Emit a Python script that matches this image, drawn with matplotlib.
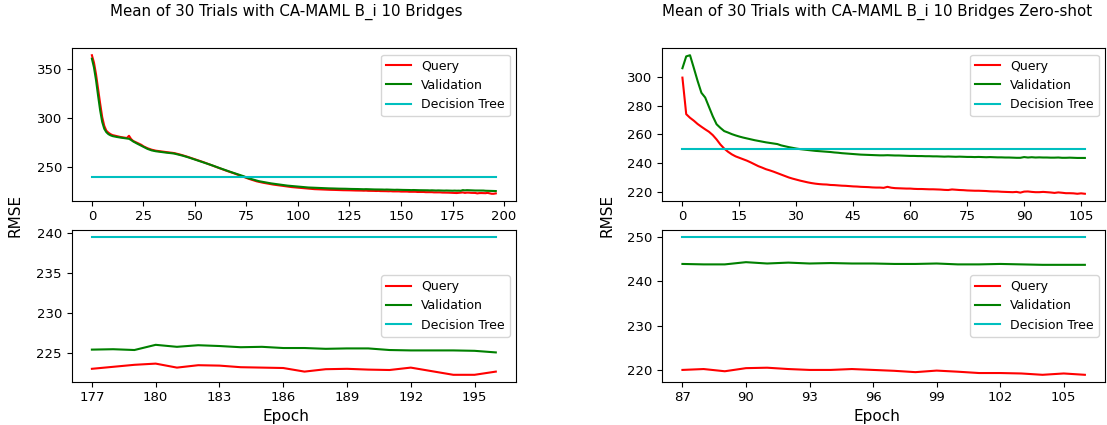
import matplotlib
matplotlib.use('Agg')
import matplotlib.pyplot as plt
from matplotlib.ticker import MultipleLocator
import numpy as np

# ---- CA-MAML B_i, 10 bridges (epochs 0..196) ----
query_a = [364.5, 357.0, 345.0, 330.0, 315.0, 301.0, 292.0, 287.0, 285.0, 283.5,
           282.5, 282.0, 281.5, 281.0, 280.5, 280.2, 280.0, 279.5, 281.8, 278.5,
           276.5, 275.5, 274.5, 273.5, 272.5, 271.0, 270.0, 269.0, 268.2, 267.5,
           267.0, 266.5, 266.2, 266.0, 265.6, 265.3, 265.0, 264.8, 264.6, 264.3,
           264.0, 263.5, 263.0, 262.4, 261.8, 261.2, 260.5, 259.8, 259.0, 258.3,
           257.6, 256.9, 256.2, 255.5, 254.8, 254.0, 253.3, 252.5, 251.7, 250.9,
           250.1, 249.3, 248.5, 247.7, 246.9, 246.1, 245.4, 244.6, 243.9, 243.2,
           242.4, 241.6, 240.8, 240.0, 239.2, 238.4, 237.7, 237.0, 236.3, 235.6,
           235.0, 234.5, 234.0, 233.6, 233.2, 232.8, 232.4, 232.0, 231.7, 231.4,
           231.1, 230.8, 230.5, 230.2, 229.9, 229.6, 229.3, 229.1, 228.9, 228.6,
           228.4, 228.2, 228.0, 227.8, 227.6, 227.4, 227.3, 227.1, 227.0, 226.9,
           226.8, 226.7, 226.6, 226.6, 226.5, 226.4, 226.3, 226.3, 226.2, 226.1,
           226.1, 226.0, 225.9, 225.9, 225.8, 225.8, 225.7, 225.7, 225.6, 225.6,
           225.5, 225.5, 225.4, 225.5, 225.3, 225.3, 225.2, 225.2, 225.1, 225.2,
           225.0, 225.0, 224.9, 224.9, 224.8, 224.9, 224.7, 224.7, 224.6, 224.7,
           224.5, 224.5, 224.4, 224.5, 224.3, 224.3, 224.2, 224.3, 224.1, 224.1,
           224.0, 224.1, 223.9, 223.9, 223.8, 223.9, 223.7, 223.7, 223.6, 223.7,
           223.5, 223.5, 223.4, 223.4, 223.3, 223.2, 223.1,
           223.0, 223.25, 223.5, 223.65, 223.15, 223.45, 223.4, 223.2, 223.15, 223.1,
           222.65, 222.95, 223.0, 222.9, 222.85, 223.15, 222.7, 222.25, 222.25, 222.65]
val_a = [361.0, 352.0, 339.0, 323.0, 308.0, 296.0, 289.0, 285.5, 283.5, 282.3,
         281.5, 281.0, 280.6, 280.2, 279.9, 279.6, 279.3, 278.9, 278.7, 277.5,
         276.0, 274.8, 273.7, 272.6, 271.5, 270.3, 269.2, 268.3, 267.5, 266.8,
         266.3, 265.9, 265.6, 265.3, 265.0, 264.8, 264.5, 264.3, 264.1, 263.8,
         263.5, 263.0, 262.5, 262.0, 261.4, 260.8, 260.2, 259.5, 258.8, 258.1,
         257.4, 256.7, 256.0, 255.3, 254.6, 253.9, 253.2, 252.5, 251.7, 250.9,
         250.2, 249.4, 248.6, 247.9, 247.1, 246.4, 245.6, 244.9, 244.2, 243.5,
         242.8, 242.1, 241.4, 240.7, 240.0, 238.9, 238.2, 237.6, 237.0, 236.3,
         235.7, 235.2, 234.8, 234.4, 234.0, 233.6, 233.3, 232.9, 232.6, 232.3,
         232.0, 231.7, 231.4, 231.1, 230.9, 230.6, 230.4, 230.2, 230.0, 229.7,
         229.5, 229.3, 229.2, 229.0, 228.9, 228.7, 228.6, 228.5, 228.4, 228.3,
         228.2, 228.1, 228.0, 228.0, 227.9, 227.8, 227.8, 227.7, 227.6, 227.6,
         227.5, 227.5, 227.4, 227.4, 227.3, 227.3, 227.2, 227.2, 227.1, 227.1,
         227.0, 227.0, 226.9, 227.0, 226.9, 226.8, 226.8, 226.7, 226.7, 226.7,
         226.6, 226.6, 226.5, 226.6, 226.5, 226.4, 226.4, 226.3, 226.4, 226.3,
         226.2, 226.2, 226.2, 226.1, 226.1, 226.0, 226.1, 226.0, 225.9, 225.9,
         225.9, 225.8, 225.8, 225.8, 225.7, 225.8, 225.7, 225.6, 225.7, 225.6,
         225.6, 225.5, 225.6, 225.5, 225.5, 225.4, 225.5,
         225.4, 225.45, 225.35, 226.0, 225.75, 225.95, 225.85, 225.7, 225.75, 225.6,
         225.6, 225.5, 225.55, 225.55, 225.35, 225.3, 225.3, 225.3, 225.25, 225.05]
tree_a = 239.5

# ---- CA-MAML B_i, 10 bridges, zero-shot (epochs 0..106) ----
query_b = [299.3, 274.0, 271.5, 269.5, 267.2, 265.3, 263.5, 261.8, 259.5, 256.5,
           253.0, 250.2, 248.0, 246.2, 244.8, 243.8, 242.8, 241.8, 240.6, 239.3,
           238.0, 237.0, 235.9, 235.1, 234.2, 233.2, 232.2, 231.2, 230.2, 229.4,
           228.7, 228.0, 227.4, 226.8, 226.3, 225.9, 225.6, 225.4, 225.3, 225.0,
           224.9, 224.7, 224.5, 224.4, 224.2, 224.0, 223.9, 223.7, 223.6, 223.5,
           223.3, 223.2, 223.2, 223.0, 223.7, 223.1, 222.8, 222.7, 222.6, 222.5,
           222.5, 222.3, 222.2, 222.2, 222.1, 222.0, 222.0, 221.9, 221.8, 221.6,
           221.5, 221.9, 221.7, 221.5, 221.4, 221.2, 221.1, 221.0, 221.0, 220.9,
           220.8, 220.6, 220.5, 220.5, 220.3, 220.2, 220.1,
           220.0, 220.2, 219.7, 220.4, 220.5, 220.2, 220.0, 220.0, 220.2, 220.0,
           219.8, 219.5, 219.85, 219.6, 219.3, 219.3, 219.2, 218.9, 219.2, 218.9]
val_b = [305.8, 314.0, 314.8, 306.0, 297.0, 288.8, 285.5, 279.0, 272.5, 267.0,
         264.5, 262.3, 261.3, 260.2, 259.3, 258.5, 257.8, 257.2, 256.6, 256.0,
         255.5, 255.0, 254.5, 254.1, 253.7, 253.3, 252.4, 251.8, 251.2, 250.7,
         250.2, 249.8, 249.5, 249.2, 248.9, 248.6, 248.4, 248.2, 248.0, 247.8,
         247.5, 247.3, 247.0, 246.8, 246.6, 246.4, 246.2, 246.0, 245.9, 245.8,
         245.7, 245.6, 245.5, 245.5, 245.6, 245.5, 245.4, 245.4, 245.3, 245.2,
         245.1, 245.1, 245.0, 245.0, 244.9, 244.9, 244.8, 244.8, 244.7, 244.6,
         244.7, 244.6, 244.5, 244.6, 244.5, 244.4, 244.4, 244.3, 244.4, 244.3,
         244.2, 244.3, 244.2, 244.1, 244.1, 244.0, 244.0,
         243.9, 243.8, 243.8, 244.3, 244.0, 244.2, 244.0, 244.1, 244.0, 244.0,
         243.9, 243.9, 244.0, 243.8, 243.8, 243.9, 243.8, 243.7, 243.7, 243.7]
tree_b = 250.0

tail = 20
W, H = 1107, 425
fig = plt.figure(figsize=(W / 100, H / 100), dpi=100)


def px(l, t, r, b):
    return [l / W, 1 - b / H, (r - l) / W, (b - t) / H]


panels = [
    (query_a, val_a, tree_a, 71.7, 516.0, 286, 15,
     'Mean of 30 Trials with CA-MAML B_i 10 Bridges', None, None),
    (query_b, val_b, tree_b, 662.3, 1105.0, 877, 607,
     'Mean of 30 Trials with CA-MAML B_i 10 Bridges Zero-shot', 15, 20),
]

for q, v, t, l, r, cx, rx, title, xstep, ystep in panels:
    q = np.array(q)
    v = np.array(v)
    ep = np.arange(len(q))

    ax1 = fig.add_axes(px(l, 48.3, r, 200.7))
    ax1.plot(ep, q, color='r', label='Query')
    ax1.plot(ep, v, color='g', label='Validation')
    ax1.plot(ep, np.full(len(ep), t), color='c', label='Decision Tree')
    ax1.legend(loc='upper right', fontsize=9)
    if xstep:
        ax1.set_xticks(np.arange(0, len(ep), xstep))
    if ystep:
        ax1.yaxis.set_major_locator(MultipleLocator(ystep))

    ax2 = fig.add_axes(px(l, 230.0, r, 381.7))
    e2 = ep[-tail:]
    ax2.plot(e2, q[-tail:], color='r', label='Query')
    ax2.plot(e2, v[-tail:], color='g', label='Validation')
    ax2.plot(e2, np.full(tail, t), color='c', label='Decision Tree')
    ax2.legend(loc='center right', fontsize=9)
    ax2.set_xticks(np.arange(e2[0], e2[-1] + 1, 3))

    for ax in (ax1, ax2):
        ax.tick_params(labelsize=9.5)

    fig.text(cx / W, 1 - 12 / H, title, ha='center', va='center', fontsize=10.8)
    fig.text(rx / W, 1 - 215 / H, 'RMSE', ha='center', va='center',
             rotation=90, fontsize=11)
    fig.text(cx / W, 1 - 416 / H, 'Epoch', ha='center', va='center', fontsize=11)

fig.savefig('out.png', dpi=100)
